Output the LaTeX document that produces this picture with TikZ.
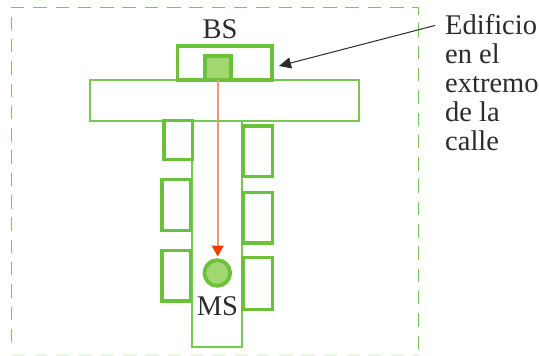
\documentclass[tikz,border=0pt]{standalone}
\usepackage{fontspec}
\setmainfont{Liberation Serif}
\usetikzlibrary{arrows.meta,positioning}
\definecolor{grn}{HTML}{6CC13A}
\definecolor{grnl}{HTML}{78C850}
\definecolor{fillg}{HTML}{A2D670}
\definecolor{txt}{HTML}{2B2B2E}
\definecolor{rayc}{HTML}{F09878}
\definecolor{tipc}{HTML}{F04000}
\tikzset{
  box/.style={inner sep=0pt,outer sep=0pt,anchor=north west},
  bld/.style={box,draw=grn,line width=3.4pt,fill=white},
  street/.style={box,draw=grnl,line width=1.8pt},
  lbl/.style={text=txt,font=\fontsize{28.5}{29}\selectfont,inner sep=0pt},
  radio/.style={draw=grn,line width=3.8pt,fill=fillg,inner sep=0pt,outer sep=0pt},
  ray/.style={draw=rayc,line width=1.7pt},
  frameline/.style={draw=grnl,line width=1.2pt,dash pattern=on 13.5pt off 8.8pt},
}
\begin{document}
\begin{tikzpicture}[x=1pt,y=-1pt]
\useasboundingbox (0,0) rectangle (539,356);
% dashed frame
\draw[frameline] (418.5,349) -- (418.5,7.2) -- (11.5,7.2) -- (11.5,348);
\draw[frameline,draw=grnl!15] (11.5,355) -- (418.5,355);
% streets
\node[street,minimum width=50.2pt,minimum height=227.8pt] (vstreet) at (191.6,119) {};
\node[street,fill=white,minimum width=269.2pt,minimum height=40.6pt] (hstreet) at (89.9,80.2) {};
\node[bld,fill=none,minimum width=94.6pt,minimum height=34pt] (end) at (177.5,46) {};
% buildings
\foreach \n/\x/\y/\w/\h in {a/164/120.7/28.3/38.6, b/162/179.7/28.3/50.9, c/162/250.4/28.3/50.6,
  d/243/126/29.3/50.3, e/243/192.7/29.3/50.3, f/243/257.7/29.3/51.9}{
  \node[bld,minimum width=\w pt,minimum height=\h pt] (\n) at (\x,\y) {};
}
% radio
\node[radio,box,minimum width=25.9pt,minimum height=23.9pt] (bsant) at (204.9,55.9) {};
\node[radio,circle,minimum size=25.7pt] (ms) at (217.3,273) {};
\coordinate (tip) at (217.7,256.5);
\draw[ray,-{Triangle[length=11pt,width=12pt,color=tipc,fill=tipc]}] (tip |- bsant.south) -- (tip);
\node[lbl] (bslabel) at (220,29) {BS};
\node[lbl] (mslabel) at (217.5,306.5) {MS};
\node[lbl,align=left,anchor=north west] (edif) at (445,14) {Edificio\\en el\\extremo\\de la\\calle};
\coordinate (from) at (435,25.5);
\coordinate (to) at (279,66);
\draw[draw=txt,line width=1pt,-{Stealth[length=12pt,width=11pt,inset=0pt]}] (from) -- (to);
\end{tikzpicture}
\end{document}
